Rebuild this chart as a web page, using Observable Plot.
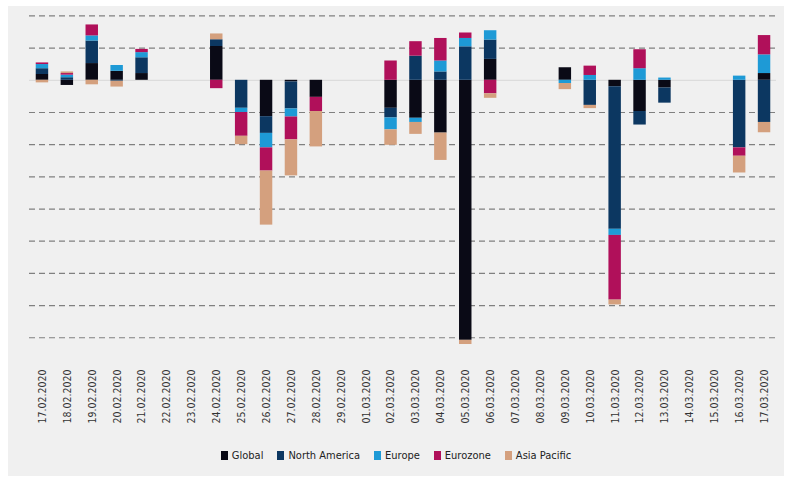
<!DOCTYPE html>
<html><head><meta charset="utf-8">
<script src="https://cdn.jsdelivr.net/npm/d3@7"></script>
<script src="https://cdn.jsdelivr.net/npm/@observablehq/plot@0.6"></script>
<style>
body{margin:0;background:#fff;font-family:"DejaVu Sans Condensed","DejaVu Sans",sans-serif;}
#wrap{position:absolute;left:8px;top:6px;width:776px;height:470px;background:#f0f0f0;}
#legend{position:absolute;left:0;width:776px;top:443px;text-align:center;font-size:11px;color:#222;}
#legend span{margin:0 7px;}
#legend i{display:inline-block;width:7px;height:9px;margin-right:4px;vertical-align:-1px;}
</style></head><body>
<div id="wrap"><div id="chart"></div><div id="legend"></div></div>
<script>
const dates=["17.02.2020","18.02.2020","19.02.2020","20.02.2020","21.02.2020","22.02.2020","23.02.2020","24.02.2020","25.02.2020","26.02.2020","27.02.2020","28.02.2020","29.02.2020","01.03.2020","02.03.2020","03.03.2020","04.03.2020","05.03.2020","06.03.2020","07.03.2020","08.03.2020","09.03.2020","10.03.2020","11.03.2020","12.03.2020","13.03.2020","14.03.2020","15.03.2020","16.03.2020","17.03.2020"];
const seriesNames=["Global","North America","Europe","Eurozone","Asia Pacific"];
const colors=["#0a0a16","#0c3761","#1e9ad6","#b0105a","#d4a07e"];
const global      =[1.8,-1.6,5.2,2.8,2.1,0,0,10.5,0,-11.3,-0.5,-5.3,0,0,-8.7,-11.8,-16.4,-80.8,6.5,0,0,3.9,0,-2,-9.7,-2.4,0,0,0,2.1];
const northAmerica=[1.8,0.8,7,-0.3,4.9,0,0,2.1,-8.7,-5.2,-8.4,0,0,0,-3,7.5,2.6,10.4,6,0,0,0,-7.8,-44.3,-4.2,-4.7,0,0,-21,-13.1];
const europe      =[1.3,0.8,1.6,1.8,1.6,0,0,0,-1.3,-4.5,-2.5,0,0,0,-3.7,-1.3,3.4,2.6,2.9,0,0,-1,1.5,-1.9,3.6,0.7,0,0,1.3,5.8];
const eurozone    =[0.5,0.5,3.4,0,1.0,0,0,-2.6,-7.4,-7.2,-7.1,-4.4,0,0,6.0,4.5,7,1.7,-4.2,0,0,0,2.9,-20.1,5.9,0,0,0,-2.6,6];
const asiaPacific =[-0.8,0.5,-1.4,-1.8,0,0,0,1.8,-2.6,-16.8,-11.2,-11,0,0,-4.8,-3.7,-8.5,-1.3,-1.4,0,0,-1.9,-1,-1.5,0,0,0,0,-5.2,-3.2];
const cols=[global,northAmerica,europe,eurozone,asiaPacific];
const data=[];
dates.forEach((d,i)=>cols.forEach((c,k)=>{if(c[i]!==0)data.push({date:d,series:seriesNames[k],value:c[i]});}));
const grid=d3.range(-80,30,10).filter(v=>v!==0);
const chart=Plot.plot({
  width:776,height:425,marginTop:3,marginLeft:21,marginRight:8,marginBottom:68,
  style:{background:"transparent",fontFamily:"DejaVu Sans Condensed, DejaVu Sans, sans-serif",fontSize:"10.5px",color:"#333"},
  x:{domain:dates,range:[21.5,768.5],round:false,paddingInner:0.5,paddingOuter:0.25,label:null,tickRotate:-90,tickSize:0,tickPadding:6},
  y:{domain:[-88,22],axis:null},
  color:{domain:seriesNames,range:colors},
  marks:[
    Plot.ruleY(grid,{stroke:"#808080",strokeDasharray:"6,4",strokeWidth:1.2}),
    Plot.ruleY([0],{stroke:"#d8d8d8",strokeWidth:1}),
    Plot.barY(data,Plot.stackY({x:"date",y:"value",fill:"series",order:seriesNames}))
  ]
});
document.getElementById("chart").appendChild(chart);
document.getElementById("legend").innerHTML=seriesNames.map((s,k)=>`<span><i style="background:${colors[k]}"></i>${s}</span>`).join("");
</script></body></html>
